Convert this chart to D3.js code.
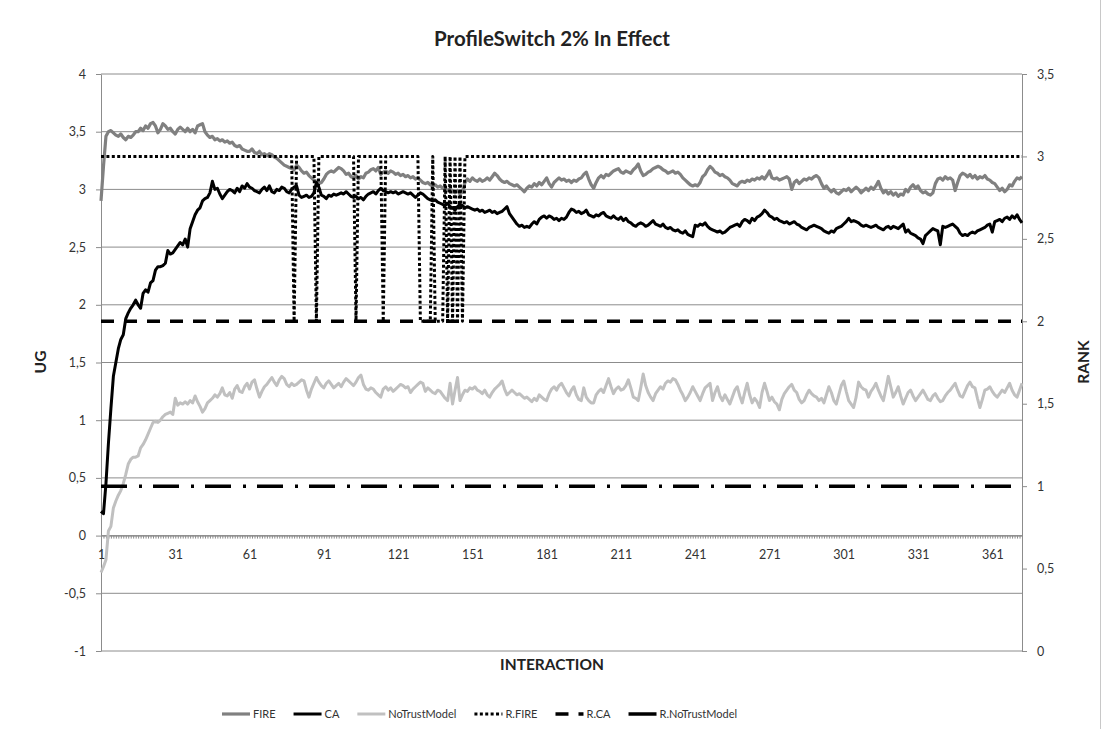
<!DOCTYPE html>
<html>
<head>
<meta charset="utf-8">
<script src="https://cdn.jsdelivr.net/npm/d3@7"></script>
<style>
  body { margin: 0; background: #fff; }
  svg { display: block; font-family: Lato, "Liberation Sans", sans-serif; }
</style>
</head>
<body>
<svg id="chart" width="1104" height="729"></svg>
<script>
// UG series, one value per interaction (1..373)
const fire = [
  2.90,3.20,3.46,3.50,3.51,3.49,3.47,3.46,3.48,3.45,
  3.43,3.46,3.45,3.47,3.50,3.50,3.53,3.51,3.55,3.53,
  3.57,3.58,3.55,3.49,3.52,3.57,3.55,3.52,3.53,3.50,
  3.48,3.52,3.54,3.52,3.50,3.53,3.50,3.52,3.49,3.55,
  3.56,3.57,3.50,3.47,3.45,3.46,3.43,3.44,3.42,3.43,
  3.41,3.42,3.40,3.41,3.38,3.37,3.38,3.35,3.34,3.33,
  3.33,3.35,3.32,3.31,3.33,3.30,3.31,3.29,3.31,3.30,
  3.28,3.27,3.25,3.23,3.21,3.20,3.19,3.18,3.17,3.21,
  3.19,3.16,3.14,3.15,3.12,3.10,3.08,3.07,3.05,3.06,
  3.09,3.13,3.15,3.16,3.15,3.17,3.19,3.18,3.16,3.13,
  3.14,3.11,3.10,3.12,3.09,3.11,3.10,3.14,3.15,3.17,
  3.18,3.16,3.19,3.13,3.15,3.16,3.14,3.16,3.15,3.13,
  3.14,3.12,3.13,3.11,3.12,3.10,3.11,3.09,3.10,3.08,
  3.06,3.05,3.06,3.04,3.03,3.04,3.02,3.03,3.01,3.00,
  2.99,3.01,2.98,2.97,2.99,2.96,2.98,3.06,3.09,3.07,
  3.10,3.08,3.07,3.09,3.07,3.08,3.10,3.08,3.11,3.14,
  3.12,3.09,3.07,3.06,3.07,3.05,3.04,3.03,3.04,3.02,
  3.00,2.98,3.01,3.03,3.02,3.05,3.03,3.06,3.04,3.07,
  3.10,3.05,3.02,3.06,3.08,3.10,3.08,3.09,3.07,3.08,
  3.06,3.08,3.07,3.09,3.10,3.13,3.15,3.09,3.04,3.01,
  3.06,3.10,3.12,3.10,3.13,3.12,3.14,3.16,3.17,3.18,
  3.15,3.14,3.16,3.15,3.14,3.17,3.19,3.22,3.16,3.12,
  3.13,3.15,3.16,3.18,3.19,3.20,3.19,3.17,3.16,3.14,
  3.15,3.16,3.14,3.15,3.13,3.10,3.08,3.06,3.04,3.03,
  3.04,3.03,3.06,3.11,3.13,3.17,3.20,3.18,3.15,3.14,
  3.12,3.13,3.11,3.10,3.08,3.05,3.04,3.03,3.06,3.07,
  3.06,3.08,3.07,3.09,3.08,3.10,3.09,3.11,3.09,3.12,
  3.16,3.10,3.09,3.10,3.08,3.09,3.10,3.11,3.09,3.00,
  3.06,3.08,3.05,3.07,3.09,3.08,3.10,3.09,3.11,3.12,
  3.10,3.05,3.01,3.03,3.00,2.98,3.00,2.97,2.96,2.98,
  3.00,2.99,3.01,2.98,3.00,3.02,3.00,2.97,2.99,3.01,
  2.99,3.02,3.00,3.03,3.07,3.01,2.97,2.99,2.96,2.98,
  2.95,2.97,2.94,2.96,2.95,3.00,2.98,3.02,3.04,3.01,
  3.03,2.99,2.97,2.98,2.96,2.95,2.97,3.05,3.09,3.10,
  3.08,3.11,3.09,3.10,3.08,2.99,3.06,3.12,3.14,3.13,
  3.11,3.13,3.10,3.12,3.09,3.11,3.10,3.12,3.09,3.08,
  3.06,3.05,3.02,2.99,3.01,2.98,3.00,3.04,3.03,3.07,
  3.10,3.09,3.11
];

const ca = [
  0.21,0.19,0.45,0.80,1.10,1.38,1.50,1.62,1.70,1.74,
  1.88,1.93,1.97,2.00,2.04,2.00,1.97,2.10,2.13,2.11,
  2.19,2.21,2.30,2.33,2.33,2.34,2.36,2.47,2.44,2.45,
  2.48,2.51,2.54,2.52,2.57,2.50,2.66,2.72,2.78,2.82,
  2.84,2.90,2.92,2.93,2.97,3.07,3.00,3.01,2.96,2.92,
  2.95,2.98,3.00,2.99,2.97,3.01,2.98,3.03,3.01,3.05,
  3.02,3.01,2.99,2.98,2.97,3.00,3.02,2.99,3.03,2.98,
  2.97,3.00,2.99,3.02,3.01,2.98,2.97,3.00,3.02,3.03,
  2.95,2.93,2.94,2.95,2.93,2.94,2.97,3.06,3.02,2.95,
  2.94,2.92,2.95,2.94,2.96,2.95,2.96,2.97,2.96,2.98,
  2.96,2.94,2.93,2.94,2.92,2.93,2.91,2.94,2.96,2.97,
  2.98,2.96,2.99,3.01,2.99,2.98,2.97,2.98,2.97,2.98,
  2.96,2.97,2.98,2.97,2.96,2.97,2.95,2.93,2.95,2.97,
  2.96,2.94,2.92,2.91,2.90,2.91,2.89,2.88,2.87,2.86,
  2.88,2.85,2.84,2.82,2.85,2.87,2.86,2.84,2.85,2.84,
  2.83,2.82,2.83,2.81,2.82,2.80,2.81,2.82,2.80,2.81,
  2.79,2.80,2.81,2.83,2.85,2.79,2.76,2.73,2.70,2.68,
  2.69,2.67,2.68,2.67,2.70,2.72,2.70,2.74,2.76,2.77,
  2.75,2.77,2.76,2.74,2.75,2.73,2.75,2.74,2.76,2.80,
  2.83,2.82,2.80,2.81,2.79,2.80,2.82,2.78,2.77,2.76,
  2.78,2.77,2.79,2.80,2.77,2.76,2.75,2.77,2.75,2.74,
  2.76,2.73,2.75,2.72,2.71,2.69,2.68,2.70,2.71,2.70,
  2.68,2.69,2.71,2.73,2.70,2.69,2.68,2.70,2.67,2.66,
  2.67,2.65,2.64,2.65,2.63,2.62,2.64,2.61,2.60,2.59,
  2.69,2.68,2.70,2.69,2.71,2.68,2.66,2.65,2.64,2.63,
  2.64,2.62,2.63,2.65,2.67,2.68,2.69,2.70,2.68,2.72,
  2.74,2.73,2.71,2.75,2.73,2.76,2.77,2.79,2.82,2.80,
  2.77,2.76,2.74,2.75,2.73,2.72,2.71,2.72,2.70,2.71,
  2.72,2.70,2.69,2.67,2.66,2.65,2.67,2.68,2.69,2.68,
  2.67,2.66,2.64,2.63,2.62,2.64,2.63,2.66,2.67,2.68,
  2.70,2.72,2.75,2.72,2.73,2.72,2.71,2.69,2.68,2.69,
  2.68,2.67,2.68,2.69,2.67,2.66,2.65,2.67,2.68,2.66,
  2.68,2.67,2.66,2.68,2.70,2.63,2.65,2.62,2.61,2.60,
  2.58,2.57,2.53,2.60,2.62,2.64,2.66,2.65,2.64,2.52,
  2.68,2.67,2.68,2.69,2.70,2.68,2.66,2.62,2.60,2.61,
  2.60,2.62,2.63,2.62,2.64,2.65,2.66,2.67,2.69,2.70,
  2.63,2.72,2.73,2.74,2.72,2.75,2.76,2.74,2.77,2.75,
  2.78,2.74,2.71
];

const noTrust = [
  -0.32,-0.27,-0.21,0.04,0.08,0.24,0.30,0.35,0.39,0.45,
  0.53,0.62,0.66,0.68,0.68,0.69,0.76,0.79,0.83,0.88,
  0.93,0.98,0.99,0.98,1.00,1.03,1.05,1.06,1.07,1.05,
  1.19,1.13,1.15,1.14,1.16,1.14,1.17,1.15,1.21,1.16,
  1.12,1.07,1.10,1.15,1.17,1.19,1.22,1.20,1.23,1.28,
  1.22,1.21,1.24,1.19,1.27,1.30,1.25,1.24,1.29,1.32,
  1.27,1.33,1.35,1.27,1.20,1.25,1.29,1.31,1.34,1.37,
  1.33,1.30,1.35,1.38,1.36,1.31,1.29,1.32,1.30,1.31,
  1.33,1.35,1.34,1.26,1.20,1.27,1.32,1.37,1.33,1.30,
  1.28,1.32,1.34,1.31,1.28,1.30,1.32,1.29,1.33,1.36,
  1.34,1.32,1.30,1.33,1.37,1.39,1.31,1.27,1.26,1.28,
  1.27,1.24,1.22,1.20,1.27,1.29,1.26,1.28,1.25,1.27,
  1.29,1.31,1.30,1.28,1.29,1.24,1.27,1.29,1.31,1.33,
  1.32,1.25,1.28,1.26,1.24,1.23,1.26,1.25,1.22,1.19,
  1.17,1.32,1.14,1.26,1.37,1.17,1.22,1.26,1.25,1.28,
  1.27,1.29,1.26,1.25,1.23,1.26,1.22,1.20,1.24,1.27,
  1.29,1.31,1.34,1.27,1.22,1.24,1.26,1.24,1.22,1.23,
  1.21,1.19,1.20,1.18,1.16,1.19,1.17,1.22,1.20,1.18,
  1.17,1.23,1.27,1.29,1.26,1.30,1.32,1.28,1.24,1.21,
  1.26,1.29,1.22,1.18,1.17,1.28,1.20,1.17,1.15,1.15,
  1.22,1.25,1.27,1.24,1.30,1.36,1.29,1.23,1.27,1.29,
  1.26,1.27,1.30,1.35,1.28,1.20,1.19,1.17,1.28,1.40,
  1.30,1.24,1.20,1.17,1.23,1.26,1.29,1.27,1.32,1.34,
  1.33,1.36,1.35,1.31,1.26,1.22,1.17,1.20,1.24,1.29,
  1.25,1.21,1.17,1.23,1.28,1.30,1.32,1.17,1.24,1.29,
  1.21,1.17,1.22,1.18,1.14,1.20,1.26,1.29,1.21,1.15,
  1.24,1.32,1.22,1.15,1.19,1.16,1.11,1.24,1.32,1.25,
  1.17,1.20,1.16,1.14,1.09,1.18,1.23,1.26,1.29,1.31,
  1.26,1.24,1.18,1.15,1.17,1.22,1.26,1.23,1.21,1.20,
  1.17,1.19,1.15,1.22,1.29,1.24,1.17,1.14,1.22,1.30,
  1.34,1.25,1.17,1.14,1.11,1.20,1.33,1.29,1.27,1.26,
  1.20,1.25,1.28,1.32,1.26,1.21,1.17,1.27,1.38,1.29,
  1.20,1.24,1.29,1.21,1.14,1.19,1.24,1.26,1.21,1.17,
  1.20,1.23,1.26,1.22,1.18,1.17,1.21,1.23,1.19,1.16,
  1.17,1.21,1.24,1.26,1.29,1.32,1.26,1.21,1.20,1.25,
  1.30,1.33,1.29,1.28,1.19,1.11,1.18,1.26,1.27,1.29,
  1.25,1.22,1.20,1.23,1.26,1.24,1.28,1.32,1.26,1.22,
  1.20,1.26,1.32
];

// RANK series (secondary axis)
const rankFire = [
  3,3,3,3,3,3,3,3,3,3, 3,3,3,3,3,3,3,3,3,3, 3,3,3,3,3,3,3,3,3,3,
  3,3,3,3,3,3,3,3,3,3, 3,3,3,3,3,3,3,3,3,3, 3,3,3,3,3,3,3,3,3,3,
  3,3,3,3,3,3,3,3,3,3, 3,3,3,3,3,3,3,3,2,3, 3,3,3,3,3,3,3,2,3,3,
  3,3,3,3,3,3,3,3,3,3, 3,3,3,2,3,3,3,3,3,3, 3,3,3,3,2,3,3,3,3,3,
  3,3,3,3,3,3,3,3,3,2, 2,2,2,2,3,2,2,2,2,3, 2,3,2,3,2,3,2,3,3,3,
  3,3,3,3,3,3,3,3,3,3, 3,3,3,3,3,3,3,3,3,3, 3,3,3,3,3,3,3,3,3,3,
  3,3,3,3,3,3,3,3,3,3, 3,3,3,3,3,3,3,3,3,3, 3,3,3,3,3,3,3,3,3,3,
  3,3,3,3,3,3,3,3,3,3, 3,3,3,3,3,3,3,3,3,3, 3,3,3,3,3,3,3,3,3,3,
  3,3,3,3,3,3,3,3,3,3, 3,3,3,3,3,3,3,3,3,3, 3,3,3,3,3,3,3,3,3,3,
  3,3,3,3,3,3,3,3,3,3, 3,3,3,3,3,3,3,3,3,3, 3,3,3,3,3,3,3,3,3,3,
  3,3,3,3,3,3,3,3,3,3, 3,3,3,3,3,3,3,3,3,3, 3,3,3,3,3,3,3,3,3,3,
  3,3,3,3,3,3,3,3,3,3, 3,3,3,3,3,3,3,3,3,3, 3,3,3,3,3,3,3,3,3,3,
  3,3,3,3,3,3,3,3,3,3, 3,3,3
];

const rankCA = [
  2,2,2,2,2,2,2,2,2,2, 2,2,2,2,2,2,2,2,2,2, 2,2,2,2,2,2,2,2,2,2,
  2,2,2,2,2,2,2,2,2,2, 2,2,2,2,2,2,2,2,2,2, 2,2,2,2,2,2,2,2,2,2,
  2,2,2,2,2,2,2,2,2,2, 2,2,2,2,2,2,2,2,2,2, 2,2,2,2,2,2,2,2,2,2,
  2,2,2,2,2,2,2,2,2,2, 2,2,2,2,2,2,2,2,2,2, 2,2,2,2,2,2,2,2,2,2,
  2,2,2,2,2,2,2,2,2,2, 2,2,2,2,2,2,2,2,2,2, 2,2,2,2,2,2,2,2,2,2,
  2,2,2,2,2,2,2,2,2,2, 2,2,2,2,2,2,2,2,2,2, 2,2,2,2,2,2,2,2,2,2,
  2,2,2,2,2,2,2,2,2,2, 2,2,2,2,2,2,2,2,2,2, 2,2,2,2,2,2,2,2,2,2,
  2,2,2,2,2,2,2,2,2,2, 2,2,2,2,2,2,2,2,2,2, 2,2,2,2,2,2,2,2,2,2,
  2,2,2,2,2,2,2,2,2,2, 2,2,2,2,2,2,2,2,2,2, 2,2,2,2,2,2,2,2,2,2,
  2,2,2,2,2,2,2,2,2,2, 2,2,2,2,2,2,2,2,2,2, 2,2,2,2,2,2,2,2,2,2,
  2,2,2,2,2,2,2,2,2,2, 2,2,2,2,2,2,2,2,2,2, 2,2,2,2,2,2,2,2,2,2,
  2,2,2,2,2,2,2,2,2,2, 2,2,2,2,2,2,2,2,2,2, 2,2,2,2,2,2,2,2,2,2,
  2,2,2,2,2,2,2,2,2,2, 2,2,2
];

const rankNoTrust = [
  1,1,1,1,1,1,1,1,1,1, 1,1,1,1,1,1,1,1,1,1, 1,1,1,1,1,1,1,1,1,1,
  1,1,1,1,1,1,1,1,1,1, 1,1,1,1,1,1,1,1,1,1, 1,1,1,1,1,1,1,1,1,1,
  1,1,1,1,1,1,1,1,1,1, 1,1,1,1,1,1,1,1,1,1, 1,1,1,1,1,1,1,1,1,1,
  1,1,1,1,1,1,1,1,1,1, 1,1,1,1,1,1,1,1,1,1, 1,1,1,1,1,1,1,1,1,1,
  1,1,1,1,1,1,1,1,1,1, 1,1,1,1,1,1,1,1,1,1, 1,1,1,1,1,1,1,1,1,1,
  1,1,1,1,1,1,1,1,1,1, 1,1,1,1,1,1,1,1,1,1, 1,1,1,1,1,1,1,1,1,1,
  1,1,1,1,1,1,1,1,1,1, 1,1,1,1,1,1,1,1,1,1, 1,1,1,1,1,1,1,1,1,1,
  1,1,1,1,1,1,1,1,1,1, 1,1,1,1,1,1,1,1,1,1, 1,1,1,1,1,1,1,1,1,1,
  1,1,1,1,1,1,1,1,1,1, 1,1,1,1,1,1,1,1,1,1, 1,1,1,1,1,1,1,1,1,1,
  1,1,1,1,1,1,1,1,1,1, 1,1,1,1,1,1,1,1,1,1, 1,1,1,1,1,1,1,1,1,1,
  1,1,1,1,1,1,1,1,1,1, 1,1,1,1,1,1,1,1,1,1, 1,1,1,1,1,1,1,1,1,1,
  1,1,1,1,1,1,1,1,1,1, 1,1,1,1,1,1,1,1,1,1, 1,1,1,1,1,1,1,1,1,1,
  1,1,1,1,1,1,1,1,1,1, 1,1,1
];

const interactions = fire.map((d, i) => i + 1);
const xTickLabels = [1, 31, 61, 91, 121, 151, 181, 211, 241, 271, 301, 331, 361];
const ugTicks = [-1, -0.5, 0, 0.5, 1, 1.5, 2, 2.5, 3, 3.5, 4];
const rankTicks = [0, 0.5, 1, 1.5, 2, 2.5, 3, 3.5];

const plot = { left: 101, right: 1022, top: 74, bottom: 651 };
const gridColor = "#8c8c8c";
const labelColor = "#333";

const svg = d3.select("#chart");

const x = d3.scalePoint().domain(interactions).range([plot.left, plot.right]);
const yUG = d3.scaleLinear().domain([-1, 4]).range([plot.bottom, plot.top]);
const yRank = d3.scaleLinear().domain([0, 3.5]).range([plot.bottom, plot.top]);
const comma = d => String(d).replace(".", ",");

// right border of the chart area
svg.append("line")
  .attr("x1", 1100.5).attr("x2", 1100.5)
  .attr("y1", 0).attr("y2", 729)
  .attr("stroke", "#c8c8c8");

// gridlines
svg.append("g")
  .selectAll("line")
  .data(ugTicks)
  .join("line")
  .attr("x1", plot.left)
  .attr("x2", plot.right)
  .attr("y1", d => yUG(d))
  .attr("y2", d => yUG(d))
  .attr("stroke", gridColor)
  .attr("stroke-width", 1);

function styleAxis(g) {
  g.select(".domain").attr("stroke", gridColor);
  g.selectAll(".tick line").attr("stroke", gridColor);
  g.selectAll("text")
    .attr("fill", labelColor)
    .style("font-size", "12.5px")
    .style("font-family", "Lato, 'Liberation Sans', sans-serif");
}

svg.append("g")
  .attr("transform", `translate(${plot.left},0)`)
  .call(d3.axisLeft(yUG).tickValues(ugTicks).tickSize(5).tickSizeOuter(0).tickPadding(10).tickFormat(comma))
  .call(styleAxis);

svg.append("g")
  .attr("transform", `translate(${plot.right},0)`)
  .call(d3.axisRight(yRank).tickValues(rankTicks).tickSize(5).tickSizeOuter(0).tickPadding(10).tickFormat(comma))
  .call(styleAxis);

svg.append("g")
  .attr("transform", `translate(0,${yUG(0)})`)
  .call(d3.axisBottom(x).tickValues(interactions).tickSize(3).tickSizeOuter(0).tickPadding(12)
    .tickFormat(d => xTickLabels.includes(d) ? d : ""))
  .call(styleAxis);

// series
const series = [
  { name: "FIRE", values: fire, y: yUG, color: "#808080", width: 3.2, dash: null },
  { name: "CA", values: ca, y: yUG, color: "#000000", width: 3, dash: null },
  { name: "NoTrustModel", values: noTrust, y: yUG, color: "#c0c0c0", width: 3, dash: null },
  { name: "R.FIRE", values: rankFire, y: yRank, color: "#000000", width: 3, dash: "3,2.4" },
  { name: "R.CA", values: rankCA, y: yRank, color: "#000000", width: 3.5, dash: "13,10" },
  { name: "R.NoTrustModel", values: rankNoTrust, y: yRank, color: "#000000", width: 3.5, dash: "26,12,3,11" }
];

series.forEach(s => {
  const line = d3.line()
    .x((d, i) => x(interactions[i]))
    .y(d => s.y(d));
  svg.append("path")
    .datum(s.values)
    .attr("d", line)
    .attr("fill", "none")
    .attr("stroke", s.color)
    .attr("stroke-width", s.width)
    .attr("stroke-linejoin", "round")
    .attr("stroke-dasharray", s.dash);
});

// titles
svg.append("text")
  .attr("x", 552).attr("y", 46)
  .attr("text-anchor", "middle")
  .attr("font-weight", "bold")
  .attr("font-size", 20.5)
  .attr("fill", "#222")
  .text("ProfileSwitch 2% In Effect");

svg.append("text")
  .attr("x", 552).attr("y", 670)
  .attr("text-anchor", "middle")
  .attr("font-weight", "bold")
  .attr("font-size", 15.5)
  .attr("fill", "#222")
  .text("INTERACTION");

svg.append("text")
  .attr("transform", "translate(46,362) rotate(-90)")
  .attr("text-anchor", "middle")
  .attr("font-weight", "bold")
  .attr("font-size", 15.5)
  .attr("fill", "#222")
  .text("UG");

svg.append("text")
  .attr("transform", "translate(1089,362) rotate(-90)")
  .attr("text-anchor", "middle")
  .attr("font-weight", "bold")
  .attr("font-size", 15.5)
  .attr("fill", "#222")
  .text("RANK");

// legend
const legend = svg.append("g").attr("transform", "translate(222,714)");
let lx = 0;
series.forEach(s => {
  const item = legend.append("g").attr("transform", `translate(${lx},0)`);
  item.append("line")
    .attr("x1", 0).attr("x2", 28)
    .attr("y1", 0).attr("y2", 0)
    .attr("stroke", s.color)
    .attr("stroke-width", s.width)
    .attr("stroke-dasharray", s.dash && s.name !== "R.NoTrustModel" ? s.dash : null);
  const t = item.append("text")
    .attr("x", 31).attr("y", 4)
    .attr("font-size", 11)
    .attr("fill", labelColor)
    .text(s.name);
  lx += 31 + t.node().getComputedTextLength() + 18;
});
</script>
</body>
</html>
